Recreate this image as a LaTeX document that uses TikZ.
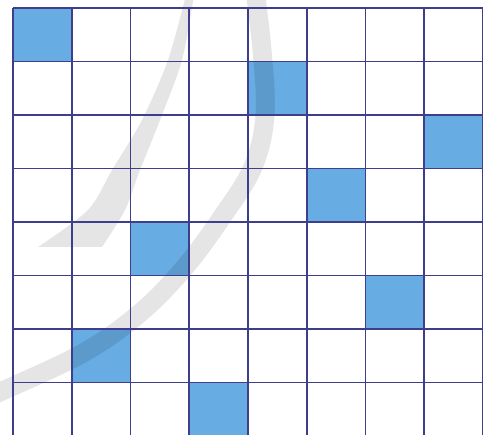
\documentclass[tikz,border=0pt]{standalone}
\definecolor{gridline}{RGB}{62,62,140}
\definecolor{cellblue}{RGB}{104,172,228}
\tikzset{
  gridlines/.style={draw=gridline, line width=1.9pt},
  queencell/.style={fill=cellblue, draw=none},
  watermark/.style={fill=black, opacity=0.10},
  watermarkline/.style={draw=black, opacity=0.10, line cap=butt}
}
\begin{document}
\begin{tikzpicture}[x=1pt,y=-1pt]
  \useasboundingbox (0,0) rectangle (483,435);
  \clip (0,0) rectangle (483,435);
  \fill[white] (0,0) rectangle (483,435);
  % highlighted cells (8-queens)
  \foreach \c/\r in {0/0,4/1,7/2,5/3,2/4,6/5,1/6,3/7}{
    \path[queencell] ({13+\c*58.75},{8+\r*53.5}) rectangle ({13+(\c+1)*58.75},{8+(\r+1)*53.5});
  }
  % watermark: slanted brush stroke
  \path[watermark] plot[smooth, tension=0.5] coordinates
        {(38,247) (88,210) (112,170) (142,120) (168,60) (186,-5)}
        -- (194,-5) -- plot[smooth, tension=0.5] coordinates
        {(194,-5) (182,60) (160,120) (140,170) (125,210) (102,247)} -- cycle;
  % watermark: crescent arc
  \draw[watermarkline, line width=19pt] plot[smooth, tension=0.6] coordinates
    {(255,-10) (262,50) (265,115) (253,167) (222,217) (185,267) (140,313) (83,353) (0,392) (-15,398)};
  % grid
  \foreach \i in {0,...,8}{
    \draw[gridlines] ({13+\i*58.75},8) -- ({13+\i*58.75},436);
    \draw[gridlines] (13,{8+\i*53.5}) -- (483,{8+\i*53.5});
  }
\end{tikzpicture}
\end{document}
